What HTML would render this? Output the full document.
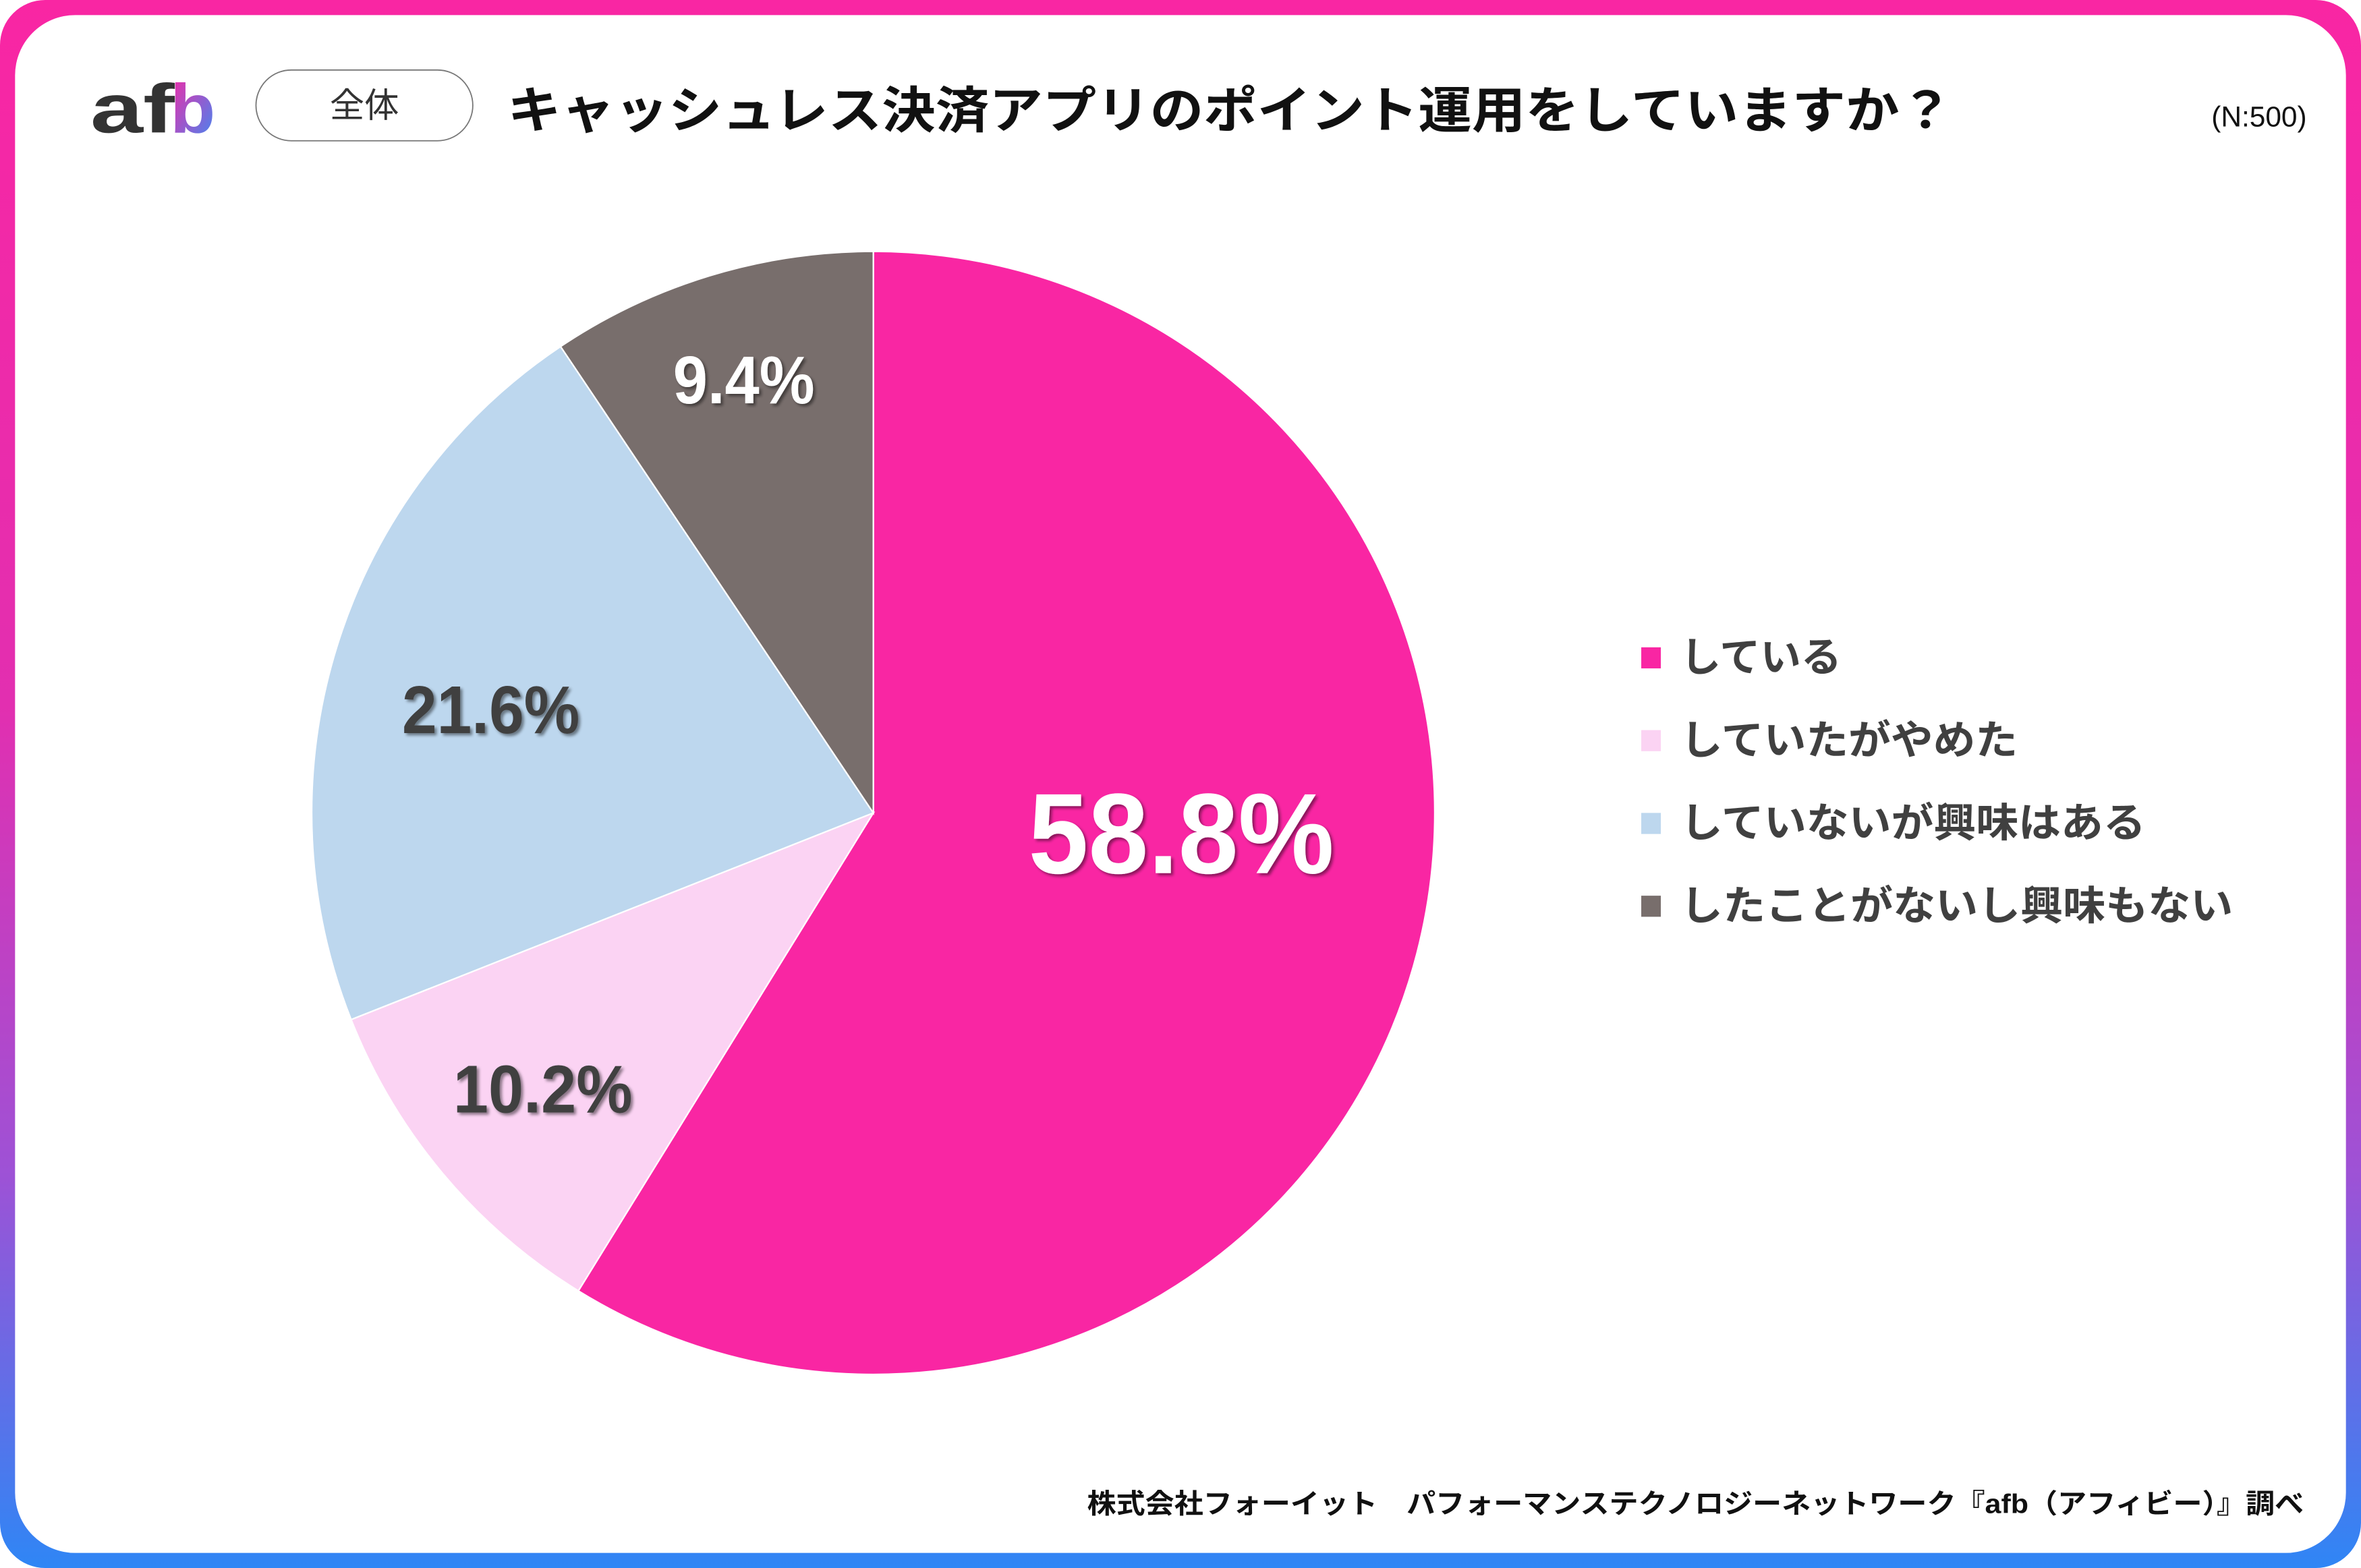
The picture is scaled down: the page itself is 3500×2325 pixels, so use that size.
<!DOCTYPE html>
<html><head><meta charset="utf-8"><style>
html,body{margin:0;padding:0;background:#fff;}
svg{display:block;}
text{font-family:"Liberation Sans","Noto Sans CJK JP",sans-serif;}
</style></head><body>
<svg width="3500" height="2325" viewBox="0 0 1568 1041.6" preserveAspectRatio="none" xmlns="http://www.w3.org/2000/svg">
<defs>
<linearGradient id="fr" x1="0" y1="0" x2="0" y2="1">
<stop offset="0" stop-color="#F926A3"/><stop offset="0.45" stop-color="#E22FB0"/><stop offset="0.75" stop-color="#9D52D6"/><stop offset="1" stop-color="#2F86F5"/>
</linearGradient>
<linearGradient id="lb" x1="0" y1="0" x2="1" y2="1">
<stop offset="0" stop-color="#F926A3"/><stop offset="1" stop-color="#3A8CF5"/>
</linearGradient>
<filter id="sh" x="-10%" y="-10%" width="130%" height="140%"><feDropShadow dx="1.5" dy="1.5" stdDeviation="1" flood-color="#000" flood-opacity="0.45"/></filter>
</defs>
<rect x="0" y="0" width="1568" height="1041.6" rx="30" fill="url(#fr)"/>
<rect x="10" y="10" width="1548" height="1021.6" rx="40" fill="#fff"/>
<text x="60" y="88" font-size="46" font-weight="bold" fill="#333" textLength="56" lengthAdjust="spacingAndGlyphs">af</text>
<text x="113" y="88" font-size="46" font-weight="bold" fill="url(#lb)" textLength="30" lengthAdjust="spacingAndGlyphs">b</text>
<rect x="170" y="46.5" width="144" height="47" rx="23.5" fill="#fff" stroke="#777" stroke-width="0.8"/>
<text x="242" y="78" font-size="23" fill="#333" text-anchor="middle">全体</text>
<text x="337" y="85" font-size="33" font-weight="bold" fill="#111" textLength="960" lengthAdjust="spacingAndGlyphs">キャッシュレス決済アプリのポイント運用をしていますか？</text>
<text x="1532" y="84" font-size="19" fill="#111" text-anchor="end">(N:500)</text>
<g stroke="#fff" stroke-width="1">
<path d="M580,540 L580,167 A373,373 0 1 1 384.1,857.5 Z" fill="#F926A3"/>
<path d="M580,540 L384.1,857.5 A373,373 0 0 1 233.2,677.3 Z" fill="#FBD3F3"/>
<path d="M580,540 L233.2,677.3 A373,373 0 0 1 372.3,230.2 Z" fill="#BDD7EE"/>
<path d="M580,540 L372.3,230.2 A373,373 0 0 1 580,167 Z" fill="#786E6C"/>
</g>
<g font-weight="bold" filter="url(#sh)">
<text x="683" y="580" font-size="76" fill="#fff" textLength="203" lengthAdjust="spacingAndGlyphs">58.8%</text>
<text x="267" y="487" font-size="45" fill="#404040" textLength="118" lengthAdjust="spacingAndGlyphs">21.6%</text>
<text x="301" y="739" font-size="45" fill="#404040" textLength="119" lengthAdjust="spacingAndGlyphs">10.2%</text>
<text x="447" y="268" font-size="45" fill="#fff" textLength="94" lengthAdjust="spacingAndGlyphs">9.4%</text>
</g>
<rect x="1090" y="430" width="13" height="14" fill="#F926A3"/>
<rect x="1090" y="485" width="13" height="14" fill="#FBD3F3"/>
<rect x="1090" y="540" width="13" height="14" fill="#BDD7EE"/>
<rect x="1090" y="595" width="13" height="14" fill="#786E6C"/>
<g font-size="27" font-weight="bold" fill="#404040">
<text x="1116" y="446" textLength="107" lengthAdjust="spacingAndGlyphs">している</text>
<text x="1116" y="501" textLength="224" lengthAdjust="spacingAndGlyphs">していたがやめた</text>
<text x="1116" y="556" textLength="309" lengthAdjust="spacingAndGlyphs">していないが興味はある</text>
<text x="1116" y="611" textLength="367" lengthAdjust="spacingAndGlyphs">したことがないし興味もない</text>
</g>
<text x="1530" y="1005" font-size="18" font-weight="bold" fill="#111" text-anchor="end" textLength="808" lengthAdjust="spacingAndGlyphs">株式会社フォーイット　パフォーマンステクノロジーネットワーク『afb（アフィビー）』調べ</text>
</svg>
</body></html>
